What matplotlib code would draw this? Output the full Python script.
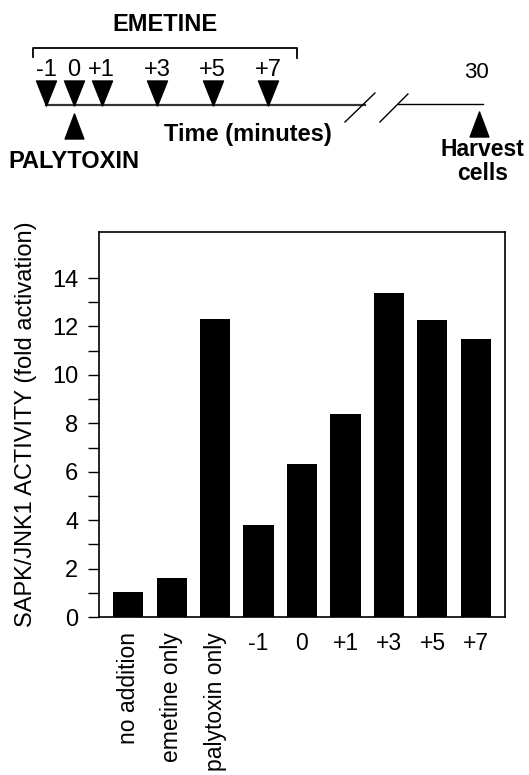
import numpy as np
import matplotlib
matplotlib.use("Agg")
import matplotlib.pyplot as plt
from matplotlib.path import Path

plt.rcParams["font.family"] = ["Liberation Sans", "DejaVu Sans"]

# timeline data (minutes relative to palytoxin addition)
emetine_times = [-1, 0, 1, 3, 5, 7]
emetine_labels = ["-1", "0", "+1", "+3", "+5", "+7"]
palytoxin_time = 0
harvest_label = "30"

# bar chart data
conditions = ["no addition", "emetine only", "palytoxin only",
              "-1", "0", "+1", "+3", "+5", "+7"]
activity = [1.05, 1.63, 12.32, 3.82, 6.32, 8.39, 13.38, 12.26, 11.48]
rotated = [True, True, True, False, False, False, False, False, False]

# triangle markers (taller than wide)
tri_down = Path([(-0.8, 1), (0.8, 1), (0, -1), (-0.8, 1)],
                [Path.MOVETO, Path.LINETO, Path.LINETO, Path.CLOSEPOLY])
tri_up = Path([(-0.75, -1), (0.75, -1), (0, 1), (-0.75, -1)],
              [Path.MOVETO, Path.LINETO, Path.LINETO, Path.CLOSEPOLY])

fig = plt.figure(figsize=(5.29, 7.75), dpi=100)

# ---------- timeline diagram ----------
axt = fig.add_axes([0, 1 - 200 / 775, 1, 200 / 775])
axt.set_xlim(-2.671, 16.42)
axt.set_ylim(200, 0)
axt.axis("off")

line_y = 105
axt.plot([emetine_times[0], 10.5], [line_y, line_y], color="#333333", lw=1.6)
axt.plot([9.78, 10.86], [122, 93], color="black", lw=1.0)
axt.plot([11.04, 12.05], [122, 94], color="black", lw=1.0)
axt.plot([11.69, 14.76], [103.5, 103.5], color="black", lw=1.0)

axt.plot(emetine_times, [92.5] * len(emetine_times), linestyle="none",
         marker=tri_down, markersize=18, color="black")
for t, lab in zip(emetine_times, emetine_labels):
    axt.text(t, 70, lab, ha="center", va="center", fontsize=17)

# emetine bracket
b_left, b_right = -1.48, 8.05
axt.plot([b_left, b_left, b_right, b_right], [57, 48, 48, 58],
         color="black", lw=1.3)
axt.text((b_left + b_right) / 2, 24.5, "EMETINE", ha="center", va="center",
         fontsize=17, fontweight="bold")

# palytoxin
axt.plot([palytoxin_time], [125.5], marker=tri_up, markersize=18,
         color="black", linestyle="none")
axt.text(palytoxin_time, 162, "PALYTOXIN", ha="center", va="center",
         fontsize=17, fontweight="bold")
axt.text(6.28, 134, "Time (minutes)", ha="center", va="center",
         fontsize=17, fontweight="bold")

# harvest
axt.text(14.54, 73, harvest_label, ha="center", va="center", fontsize=16)
axt.plot([14.62], [123.5], marker=tri_up, markersize=18, color="black",
         linestyle="none")
axt.text(14.75, 150, "Harvest", ha="center", va="center",
         fontsize=16.5, fontweight="bold")
axt.text(14.75, 173, "cells", ha="center", va="center",
         fontsize=16.5, fontweight="bold")

# ---------- bar chart ----------
ax = fig.add_axes([99 / 529, 1 - 617 / 775, (505 - 99) / 529, (617 - 232) / 775])
x = np.arange(len(conditions))
ax.bar(x, activity, width=0.69, color="black")
ax.set_xlim(-0.667, len(conditions) - 0.333)
ax.set_ylim(0, 15.9)
ax.set_yticks(np.arange(0, 15, 2))
ax.set_yticks(np.arange(1, 15, 2), minor=True)
ax.tick_params(axis="y", which="both", length=8, width=1.0, direction="out",
               labelsize=17, pad=7)
ax.set_xticks(x)
ax.set_xticklabels(conditions, fontsize=16.5)
ax.tick_params(axis="x", length=0, pad=11)
for lab, rot in zip(ax.get_xticklabels(), rotated):
    lab.set_rotation(90 if rot else 0)
    lab.set_va("top")
    lab.set_ha("center")
for sp in ax.spines.values():
    sp.set_linewidth(1.2)
ax.set_ylabel("SAPK/JNK1 ACTIVITY (fold activation)", fontsize=17)
ax.yaxis.set_label_coords(-62 / 406, 0.5)

fig.savefig("out.png", dpi=100)
